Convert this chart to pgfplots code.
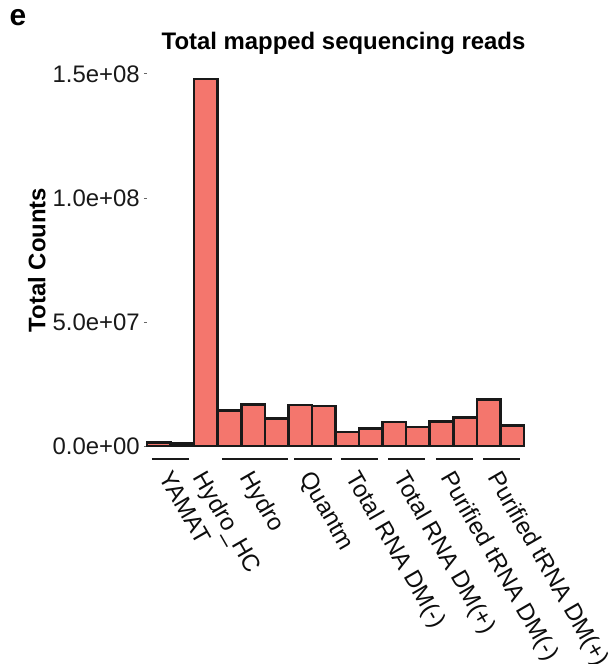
\documentclass[border=0pt]{standalone}
\usepackage{pgfplots}
\pgfplotsset{compat=1.18}
\usepackage{fontspec}
\setmainfont{Liberation Sans}
\definecolor{barfill}{HTML}{F4766D}
\pgfplotstableread{
x y
1 1.4e6
2 1.0e6
3 1.48e8
4 1.43e7
5 1.67e7
6 1.10e7
7 1.65e7
8 1.61e7
9 5.6e6
10 7.0e6
11 9.7e6
12 7.7e6
13 9.9e6
14 1.14e7
15 1.87e7
16 8.2e6
}\datatable
\begin{document}
\begin{tikzpicture}
\begin{axis}[
  at={(0,0)}, anchor=south west,
  scale only axis, width=377bp, height=384.4bp,
  xmin=0.5, xmax=16.5, ymin=0, ymax=1.55e8,
  clip=false,
  axis line style={draw=none},
  ybar, bar width=1, bar shift=0pt,
  scaled y ticks=false,
  ytick pos=left, xtick pos=bottom,
  ytick={0,5e7,1e8,1.5e8},
  yticklabels={0.0e+00,5.0e+07,1.0e+08,1.5e+08},
  tick align=outside,
  major tick length=3bp,
  ytick style={draw=black!60, line width=1bp},
  xtick={1.5,3,5,7.5,9.5,11.5,13.5,15.5},
  xticklabels={YAMAT,Hydro\_HC,Hydro,Quantm,Total RNA DM(-),Total RNA DM(+),Purified tRNA DM(-),Purified tRNA DM(+)},
  xtick style={draw=none},
  yticklabel style={font=\fontsize{24}{28}\selectfont, text=black!90, inner sep=0pt, xshift=-4bp},
  xticklabel style={font=\fontsize{24}{28}\selectfont, text=black!95, xshift=2bp, yshift=-20bp, rotate=-60, anchor=north west, inner sep=0pt},
  title={Total mapped sequencing reads},
  title style={font=\fontsize{24}{28}\selectfont\bfseries, xshift=8bp, yshift=-2bp},
  ylabel={Total Counts},
  every axis y label/.style={at={(axis description cs:-0.292,0.484)}, rotate=90, anchor=center, font=\fontsize{24}{28}\selectfont\bfseries},
]
\addplot[fill=barfill, draw=black!90, line width=2.6bp] table[x=x,y=y]{\datatable};
\draw[line width=2bp, black!90] (axis cs:0.71,-5.24e6) -- (axis cs:2.28,-5.24e6);
\draw[line width=2bp, black!90] (axis cs:3.68,-5.24e6) -- (axis cs:6.5,-5.24e6);
\draw[line width=2bp, black!90] (axis cs:6.74,-5.24e6) -- (axis cs:8.35,-5.24e6);
\draw[line width=2bp, black!90] (axis cs:8.73,-5.24e6) -- (axis cs:10.3,-5.24e6);
\draw[line width=2bp, black!90] (axis cs:10.73,-5.24e6) -- (axis cs:12.3,-5.24e6);
\draw[line width=2bp, black!90] (axis cs:12.76,-5.24e6) -- (axis cs:14.33,-5.24e6);
\draw[line width=2bp, black!90] (axis cs:14.76,-5.24e6) -- (axis cs:16.33,-5.24e6);
\end{axis}
\node[font=\fontsize{30}{34}\selectfont\bfseries, anchor=center] at (-129bp,428bp) {e};
\pgfresetboundingbox
\path (-147bp,-218bp) rectangle (467bp,446bp);
\end{tikzpicture}
\end{document}
